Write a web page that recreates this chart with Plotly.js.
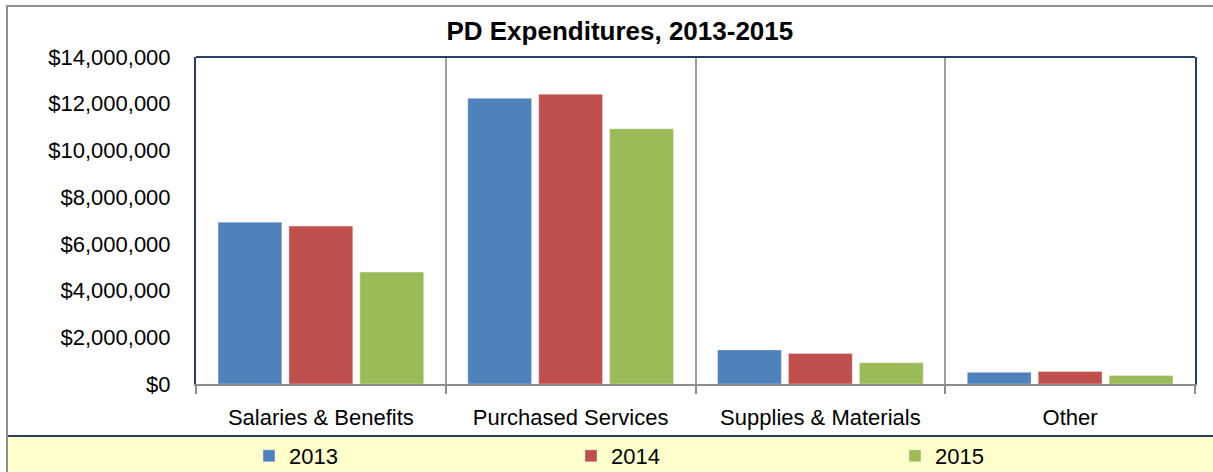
<!DOCTYPE html>
<html>
<head>
<meta charset="utf-8">
<script src="https://cdn.plot.ly/plotly-3.0.1.min.js"></script>
<style>html,body{margin:0;padding:0;background:#fff;}#chart{width:1213px;height:472px;}</style>
</head>
<body>
<div id="chart"></div>
<script>
const categories = ["Salaries & Benefits", "Purchased Services", "Supplies & Materials", "Other"];
const years = ["2013", "2014", "2015"];
const values2013 = [6930000, 12230000, 1460000, 500000];
const values2014 = [6760000, 12410000, 1310000, 540000];
const values2015 = [4790000, 10930000, 910000, 360000];
const seriesColors = ["#4F81BD", "#C0504D", "#9BBB59"];
const yTickVals = [0, 2000000, 4000000, 6000000, 8000000, 10000000, 12000000, 14000000];
const yTickText = yTickVals.map(v => "$" + v.toLocaleString("en-US"));

const FONT = "'Liberation Sans', Arial, sans-serif";
const NAVY = "#254061";
const GRAY = "#8C8C8C";
const legendNames = ["legend", "legend2", "legend3"];
const legendLeftPx = [249, 571, 895];

const seriesValues = [values2013, values2014, values2015];
const traces = years.map((yr, i) => ({
  type: "bar",
  name: yr,
  x: categories,
  y: seriesValues[i],
  legend: legendNames[i],
  marker: {color: seriesColors[i], line: {color: "rgba(255,255,255,0.35)", width: 1}},
  hoverinfo: "x+y+name"
}));

const plotL = 196, plotW = 999, plotT = 57, plotH = 327, plotB = plotT + plotH;

const layout = {
  width: 1213,
  height: 472,
  margin: {l: plotL, r: 1213 - plotL - plotW, t: plotT, b: 472 - plotB, pad: 0, autoexpand: false},
  paper_bgcolor: "#ffffff",
  plot_bgcolor: "#ffffff",
  font: {family: FONT, size: 22, color: "#000"},
  title: {
    text: "PD Expenditures, 2013-2015",
    font: {family: FONT, size: 26, color: "#000", weight: "bold"},
    xref: "container", x: 0.511, xanchor: "center",
    yref: "container", y: 1 - 31/472, yanchor: "middle"
  },
  barmode: "group",
  bargap: 0.148,
  bargroupgap: 0.1,
  xaxis: {
    type: "category",
    tickson: "boundaries",
    showgrid: true,
    gridcolor: "#A0A0A0",
    gridwidth: 1.5,
    showline: true,
    linecolor: GRAY,
    linewidth: 2,
    ticks: "outside",
    ticklen: 8,
    tickwidth: 2,
    tickcolor: GRAY,
    ticklabelstandoff: 13,
    tickfont: {family: FONT, size: 22, color: "#000"},
    zeroline: false
  },
  yaxis: {
    range: [0, 14000000],
    tickvals: yTickVals,
    ticktext: yTickText,
    showgrid: false,
    zeroline: false,
    showline: true,
    linecolor: NAVY,
    linewidth: 2,
    mirror: true,
    ticks: "outside",
    ticklen: 19,
    tickcolor: "rgba(0,0,0,0)",
    tickfont: {family: FONT, size: 22, color: "#000"}
  },
  showlegend: true,
  shapes: [
    {type: "rect", xref: "paper", yref: "paper", layer: "below",
     x0: (7-plotL)/plotW, x1: 1.2, y0: -0.5, y1: (plotB-6)/plotH,
     line: {color: "#8E8E8E", width: 2}, fillcolor: "rgba(0,0,0,0)"},
    {type: "rect", xref: "paper", yref: "paper", layer: "below",
     x0: (8-plotL)/plotW, x1: 1.2, y0: -0.5, y1: (plotB-436)/plotH,
     line: {width: 0}, fillcolor: "#FFFFCC"},
    {type: "line", xref: "paper", yref: "paper", layer: "below",
     x0: (8-plotL)/plotW, x1: 1.2, y0: (plotB-436)/plotH, y1: (plotB-436)/plotH,
     line: {color: NAVY, width: 2}},
    {type: "line", xref: "paper", yref: "paper", layer: "above",
     x0: 0, x1: 1, y0: 1, y1: 1,
     line: {color: NAVY, width: 2}}
  ]
};

legendNames.forEach((ln, i) => {
  layout[ln] = {
    orientation: "h",
    x: (legendLeftPx[i] - plotL) / plotW, xanchor: "left",
    y: (plotB - 456) / plotH, yanchor: "middle",
    bgcolor: "rgba(0,0,0,0)",
    borderwidth: 0,
    font: {family: FONT, size: 22, color: "#000"}
  };
});

Plotly.newPlot("chart", traces, layout, {displayModeBar: false});
</script>
</body>
</html>
